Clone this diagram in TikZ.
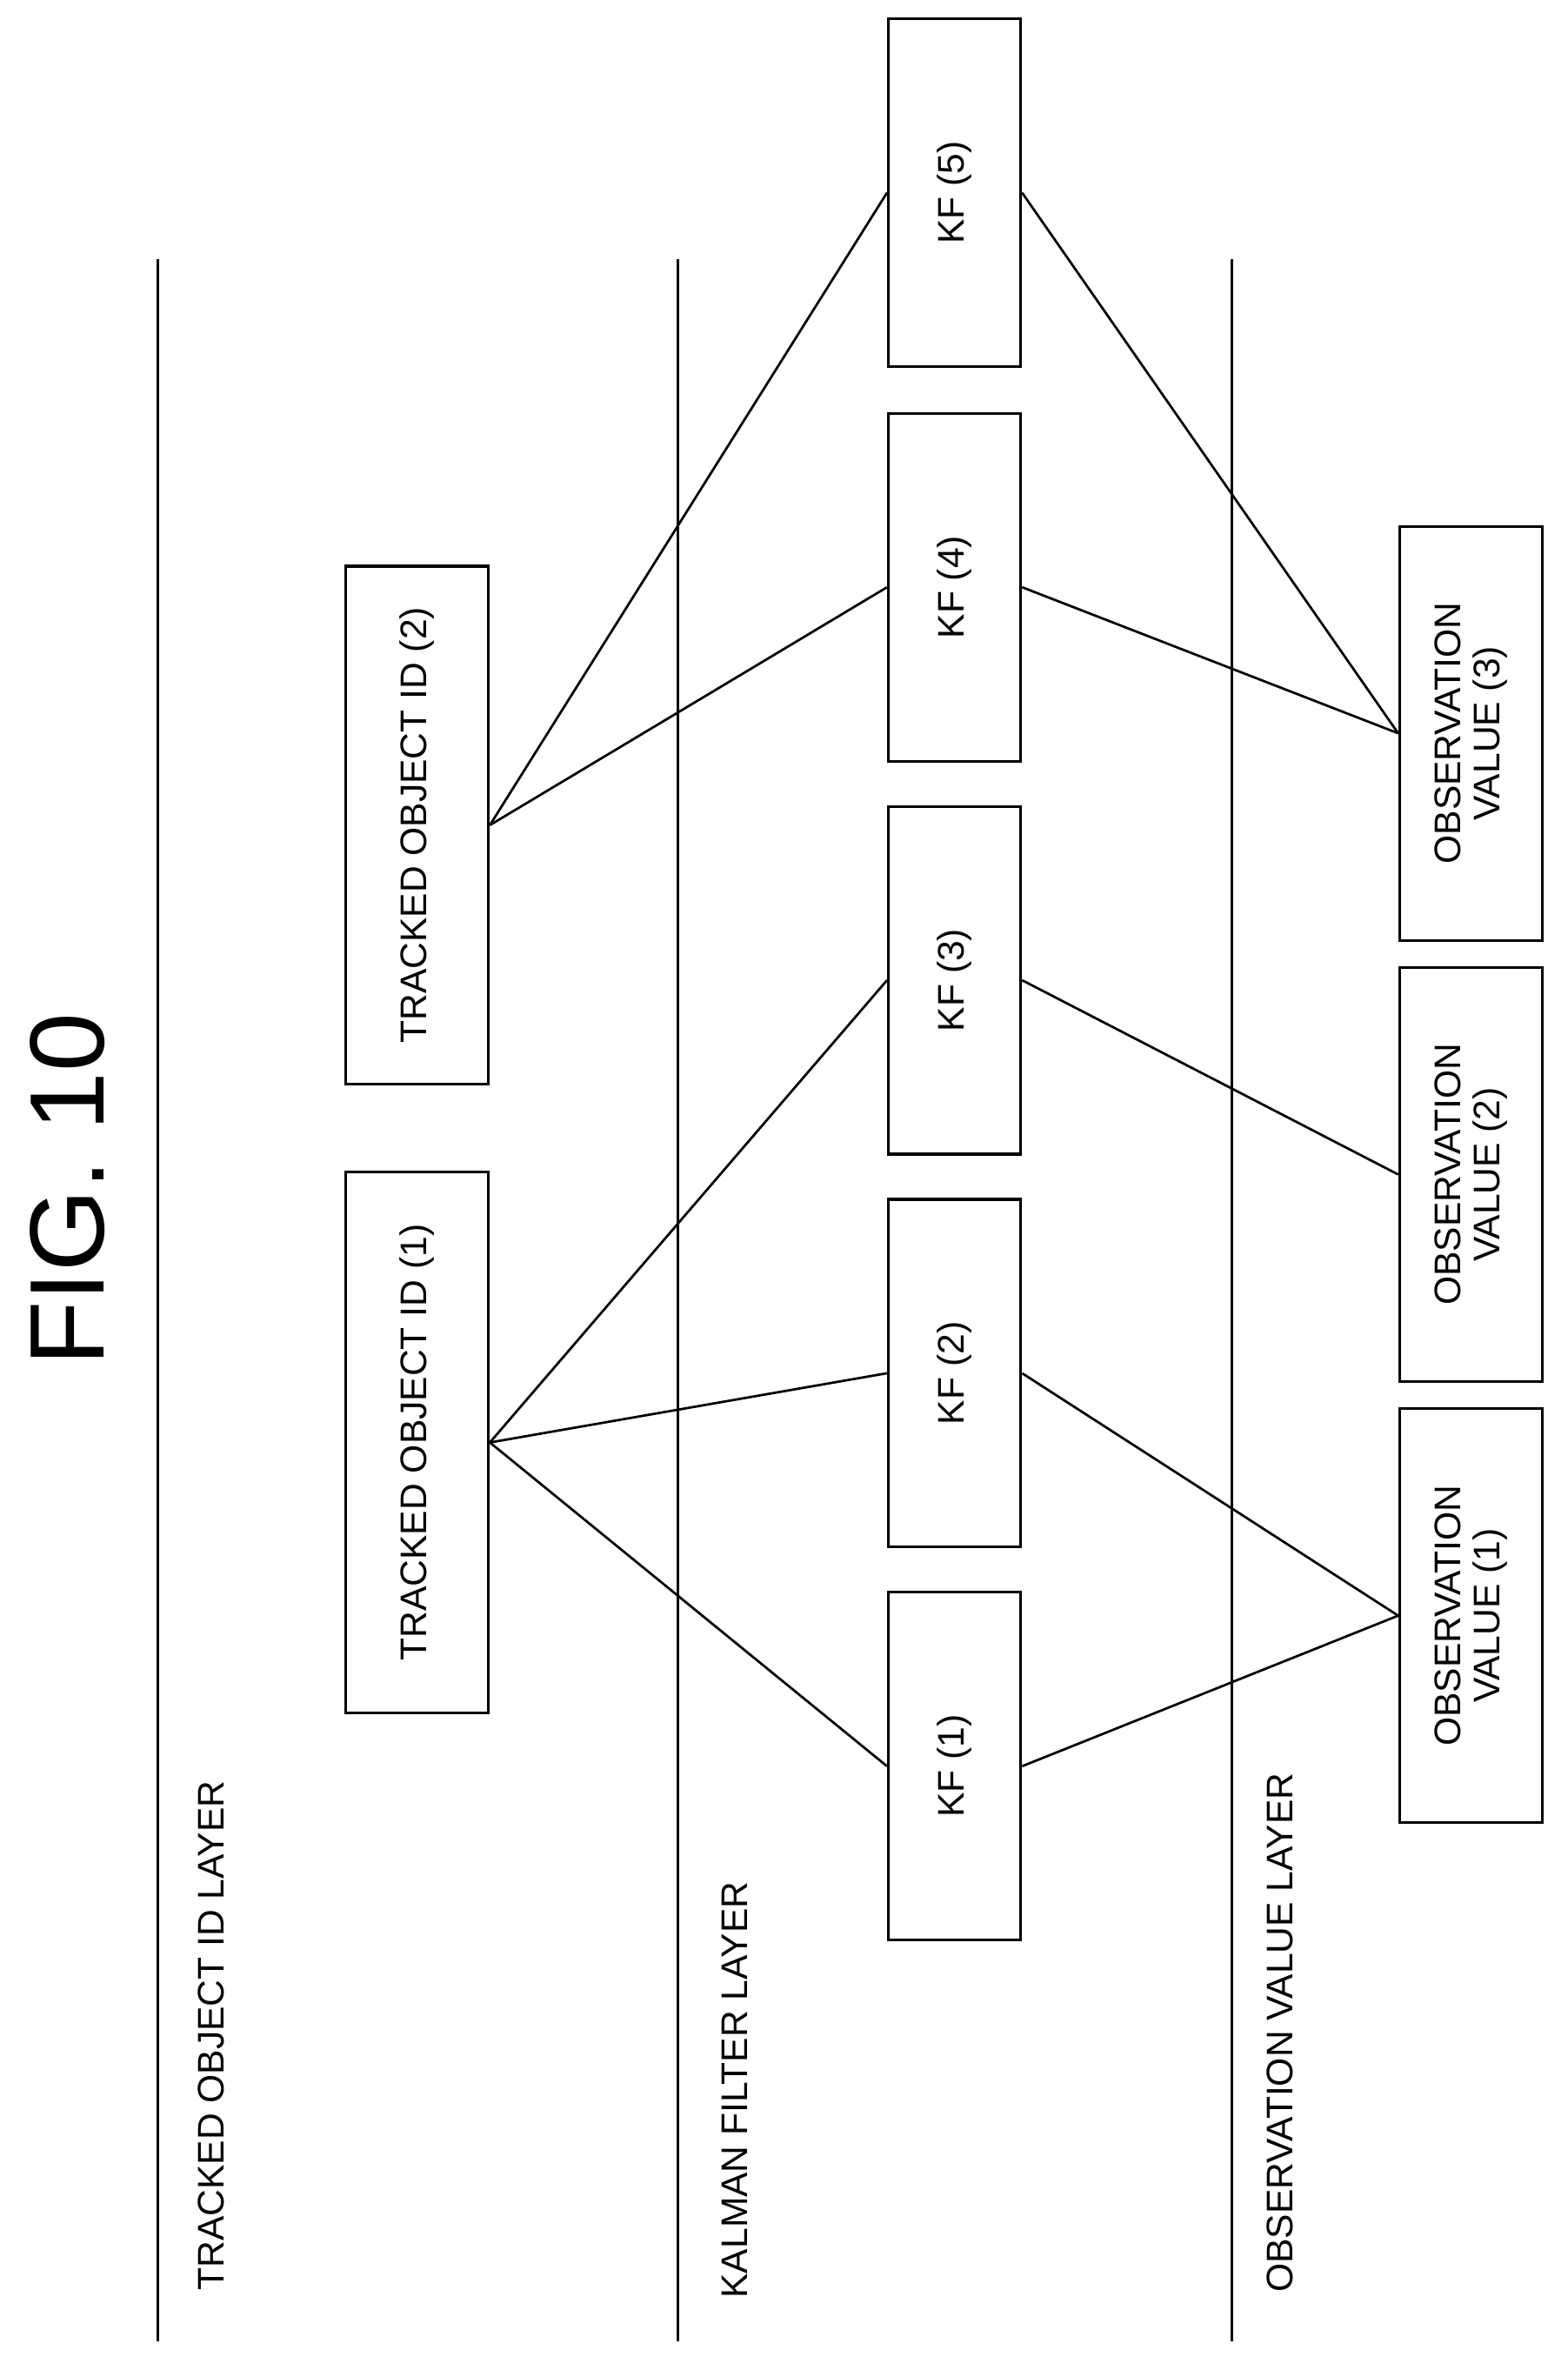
\documentclass[tikz,border=0pt]{standalone}
\usepackage{fontspec}
\setmainfont{Liberation Sans}
\usetikzlibrary{positioning}
\tikzset{
every picture/.style={line width=1pt},
%%%%%%%%%% node styles
box/.style={draw, rotate=90, inner sep=2pt, align=center, font=\fontsize{14}{15}\selectfont},
kfbox/.style={box, minimum width=4.62cm, minimum height=1.76cm},
idbox/.style={box, minimum height=1.9cm},
obsbox/.style={box, minimum width=5.5cm, minimum height=1.9cm},
layerlabel/.style={rotate=90, font=\fontsize{14}{15}\selectfont},
link/.style={line width=0.9pt}
}
\begin{document}
\begin{tikzpicture}[x=0.02cm, y=-0.02cm]
\useasboundingbox (0,0) rectangle (1041,1574);
\node[rotate=90, font=\fontsize{40}{48}\selectfont] (title) at (45,790) {FIG. 10};
%% layer lines
\draw (105,172) -- (105,1555);
\draw (450,172) -- (450,1555);
\draw (818,172) -- (818,1555);
\node[layerlabel] (lid) at (140,1352) {TRACKED OBJECT ID LAYER};
\node[layerlabel] (lkf) at (488,1388) {KALMAN FILTER LAYER};
\node[layerlabel] (lobs) at (850,1350) {OBSERVATION VALUE LAYER};
%% tracked object ids
\node[idbox, minimum width=7.18cm] (id1) at (277,958) {TRACKED OBJECT ID (1)};
\node[idbox, minimum width=6.88cm] (id2) at (277,548) {TRACKED OBJECT ID (2)};
%% kalman filters
\node[kfbox] (kf5) at (634,128) {KF (5)};
\node[kfbox] (kf4) at (634,390) {KF (4)};
\node[kfbox] (kf3) at (634,651) {KF (3)};
\node[kfbox] (kf2) at (634,912) {KF (2)};
\node[kfbox] (kf1) at (634,1173) {KF (1)};
%% observation values
\node[obsbox] (obs3) at (977,487) {OBSERVATION\\VALUE (3)};
\node[obsbox] (obs2) at (977,780) {OBSERVATION\\VALUE (2)};
\node[obsbox] (obs1) at (977,1073) {OBSERVATION\\VALUE (1)};
%% links
\foreach \k in {1,2,3} \draw[link] (id1.south) -- (kf\k.north);
\foreach \k in {4,5} \draw[link] (id2.south) -- (kf\k.north);
\draw[link] (kf1.south) -- (obs1.north);
\draw[link] (kf2.south) -- (obs1.north);
\draw[link] (kf3.south) -- (obs2.north);
\draw[link] (kf4.south) -- (obs3.north);
\draw[link] (kf5.south) -- (obs3.north);
\end{tikzpicture}
\end{document}
